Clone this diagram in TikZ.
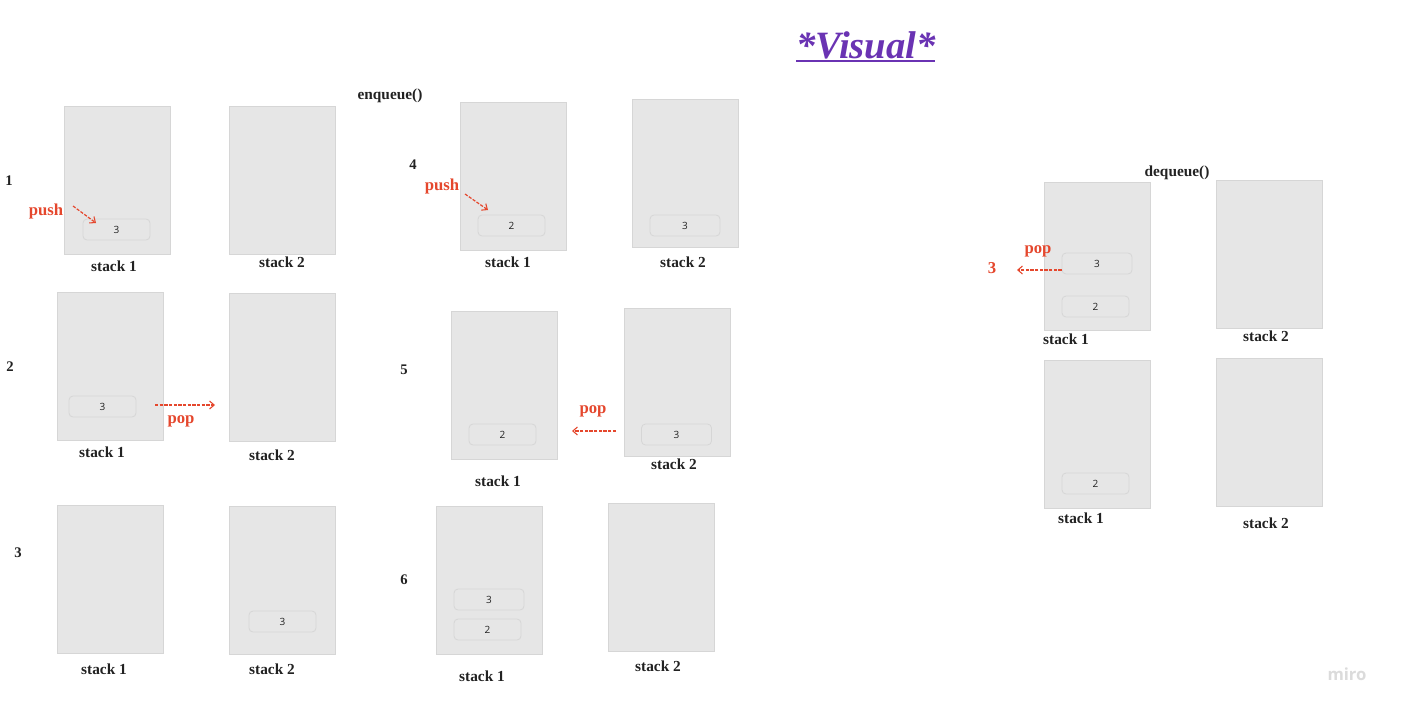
\documentclass[tikz,border=0pt]{standalone}
\usepackage{fontspec}
\setmainfont{Liberation Serif}
\newfontfamily\boxfont{Open Sans}
\usetikzlibrary{arrows.meta}
\definecolor{stk}{HTML}{E6E6E6}
\definecolor{stkb}{HTML}{D6D6D6}
\definecolor{redc}{HTML}{E5472D}
\definecolor{purp}{HTML}{6A33B3}
\definecolor{txt}{HTML}{222222}
\tikzset{
  stackbox/.style={draw=stkb, fill=stk, line width=0.6pt, minimum width=79.5pt, minimum height=111pt, inner sep=0pt},
  elem/.style={draw=stkb, fill=stk, rounded corners=3pt, line width=0.6pt, minimum width=50.25pt, minimum height=15.75pt, inner sep=0pt, font=\boxfont\fontsize{7.5}{8}\selectfont, text=txt},
  elemw/.style={elem, minimum width=52.5pt},
  lbl/.style={font=\bfseries\fontsize{11.5}{13}\selectfont, text=txt, inner sep=0pt},
  num/.style={font=\bfseries\fontsize{11}{13}\selectfont, text=txt, inner sep=0pt},
  redlbl/.style={font=\bfseries\fontsize{12.5}{14}\selectfont, text=redc, inner sep=0pt},
  redarrow/.style={draw=redc, dashed, dash pattern=on 2.4pt off 1.1pt, line width=0.9pt, -{Straight Barb[length=3.5pt,width=6pt,line width=0.8pt]}},
}
\begin{document}
\begin{tikzpicture}[x=0.75pt,y=-0.75pt]
\useasboundingbox[fill=white] (0,0) rectangle (1402,713);
% title
\node[font=\bfseries\itshape\fontsize{29}{32}\selectfont, text=purp, inner sep=0pt] (title) at (866,45) {*Visual*};
\draw[purp, line width=1.4pt] (796,61) -- (935,61);
\node[lbl] (enq) at (390,96) {enqueue()};
\node[lbl] (deq) at (1177,173) {dequeue()};
% panel 1
\node[num] (n1) at (9,181) {1};
\node[stackbox] (p1a) at (117,180) {};
\node[stackbox] (p1b) at (282,180) {};
\node[elem] (p1e) at (116.5,229.5) {3};
\node[lbl] (p1la) at (114,266) {stack 1};
\node[lbl] (p1lb) at (282,262) {stack 2};
\node[redlbl] (p1push) at (46,211) {push};
\coordinate (p1s) at (73,206);
\coordinate (p1t) at (96,223);
\draw[redarrow] (p1s) -- (p1t);
% panel 2
\node[num] (n2) at (10,367) {2};
\node[stackbox] (p2a) at (110,366) {};
\node[stackbox] (p2b) at (282,367) {};
\node[elem] (p2e) at (102.5,406.5) {3};
\node[lbl] (p2la) at (102,452) {stack 1};
\node[lbl] (p2lb) at (272,455) {stack 2};
\node[redlbl] (p2pop) at (181,421) {pop};
\coordinate (p2s) at (155,405);
\coordinate (p2t) at (215,405);
\draw[redarrow] (p2s) -- (p2t);
% panel 3
\node[num] (n3) at (18,553) {3};
\node[stackbox] (p3a) at (110,579) {};
\node[stackbox] (p3b) at (282,580) {};
\node[elem] (p3e) at (282.5,621.5) {3};
\node[lbl] (p3la) at (104,669) {stack 1};
\node[lbl] (p3lb) at (272,669) {stack 2};
% panel 4
\node[num] (n4) at (413,165) {4};
\node[stackbox] (p4a) at (513,176) {};
\node[stackbox] (p4b) at (685,173) {};
\node[elem] (p4e) at (511.5,225.5) {2};
\node[elemw] (p4f) at (685,225.5) {3};
\node[lbl] (p4la) at (508,262) {stack 1};
\node[lbl] (p4lb) at (683,262) {stack 2};
\node[redlbl] (p4push) at (442,186) {push};
\coordinate (p4s) at (465,194);
\coordinate (p4t) at (488,210);
\draw[redarrow] (p4s) -- (p4t);
% panel 5
\node[num] (n5) at (404,370) {5};
\node[stackbox] (p5a) at (504,385) {};
\node[stackbox] (p5b) at (677,382) {};
\node[elem] (p5e) at (502.5,434.5) {2};
\node[elemw] (p5f) at (676.5,434.5) {3};
\node[lbl] (p5la) at (498,481) {stack 1};
\node[lbl] (p5lb) at (674,464) {stack 2};
\node[redlbl] (p5pop) at (593,411) {pop};
\coordinate (p5s) at (616,431);
\coordinate (p5t) at (572,431);
\draw[redarrow] (p5s) -- (p5t);
% panel 6
\node[num] (n6) at (404,580) {6};
\node[stackbox] (p6a) at (489,580) {};
\node[stackbox] (p6b) at (661,577) {};
\node[elemw] (p6e) at (489,599.5) {3};
\node[elem] (p6f) at (487.5,629.5) {2};
\node[lbl] (p6la) at (482,676) {stack 1};
\node[lbl] (p6lb) at (658,666) {stack 2};
% dequeue panel 1
\node[stackbox] (d1a) at (1097,256.5) {};
\node[stackbox] (d1b) at (1269,254) {};
\node[elemw] (d1e) at (1097,263.5) {3};
\node[elem] (d1f) at (1095.5,306.5) {2};
\node[lbl] (d1la) at (1066,339) {stack 1};
\node[lbl] (d1lb) at (1266,336) {stack 2};
\node[redlbl] (d1pop) at (1038,251) {pop};
\node[redlbl] (d1out) at (992,268) {3};
\coordinate (d1t) at (1017,270);
\draw[redarrow] (d1e.west |- d1t) -- (d1t);
% dequeue panel 2
\node[stackbox] (d2a) at (1097,434) {};
\node[stackbox] (d2b) at (1269,432) {};
\node[elem] (d2e) at (1095.5,483.5) {2};
\node[lbl] (d2la) at (1081,518) {stack 1};
\node[lbl] (d2lb) at (1266,523) {stack 2};
% watermark
\node[font=\boxfont\bfseries\fontsize{12.5}{14}\selectfont, text=black!14, inner sep=0pt] (miro) at (1347,674) {miro};
\end{tikzpicture}
\end{document}
